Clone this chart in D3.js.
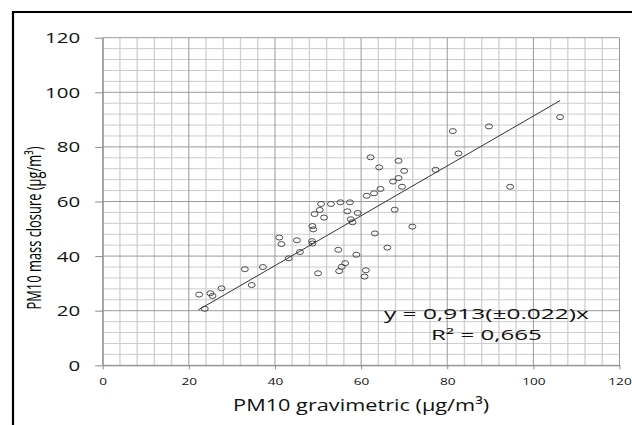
<!DOCTYPE html>
<html>
<head>
<meta charset="utf-8">
<script src="https://cdn.jsdelivr.net/npm/d3@7"></script>
<style>
  body { margin: 0; background: #fff; }
  svg { display: block; font-family: "Open Sans", "DejaVu Sans", sans-serif; }
</style>
</head>
<body>
<svg id="chart" width="632" height="425"></svg>
<script>
// values
const pmGravimetric = [22.4, 23.7, 25.0, 25.5, 27.6, 33.0, 34.6, 37.2, 41.0, 41.5,
    43.2, 45.1, 45.8, 48.6, 48.7, 48.7, 48.9, 49.2, 50.0, 50.4,
    50.7, 51.4, 53.0, 54.7, 54.9, 55.2, 55.5, 56.3, 56.8, 57.4,
    57.6, 58.0, 58.9, 59.2, 60.8, 61.1, 61.3, 62.2, 63.0, 63.2,
    64.2, 64.5, 66.1, 67.4, 67.8, 68.7, 68.7, 69.5, 70.0, 71.9,
    77.3, 81.3, 82.6, 89.7, 94.6, 106.2];
const pmMassClosure = [25.9, 20.7, 26.4, 25.4, 28.2, 35.2, 29.4, 36.0, 46.8, 44.4,
    39.2, 45.8, 41.5, 45.5, 44.6, 51.0, 49.8, 55.4, 33.7, 56.9,
    59.1, 54.1, 59.1, 42.3, 34.5, 59.7, 36.1, 37.4, 56.4, 59.7,
    53.5, 52.4, 40.5, 55.8, 32.5, 34.8, 62.1, 76.2, 63.0, 48.3,
    72.5, 64.6, 43.1, 67.3, 57.0, 74.9, 68.6, 65.4, 71.2, 50.8,
    71.6, 85.8, 77.6, 87.5, 65.4, 90.9];
const xTicks = [0, 20, 40, 60, 80, 100, 120];
const yTicks = [0, 20, 40, 60, 80, 100, 120];
const slope = 0.913;
const equationLines = ["y = 0,913(±0.022)x", "R² = 0,665"];
const xTitle = "PM10 gravimetric (μg/m³)";
const yTitle = "PM10 mass closure (μg/m³)";

const svg = d3.select("#chart");
const x = d3.scaleLinear().domain([0, 120]).range([102.7, 619.5]);
const y = d3.scaleLinear().domain([0, 120]).range([365.3, 37.7]);

// frame (only top and left edges are visible in the picture)
svg.append("path")
    .attr("d", "M13,440 L13,12 L660,12")
    .attr("fill", "none")
    .attr("stroke", "#000")
    .attr("stroke-width", 2.2);

// grid: minor every 4, major every 20
const grid = svg.append("g");
const minor = d3.range(0, 121, 4).filter(v => v % 20 !== 0);
grid.selectAll(".vmin").data(minor).enter().append("line")
    .attr("x1", d => x(d)).attr("x2", d => x(d))
    .attr("y1", y(0)).attr("y2", y(120))
    .attr("stroke", "#d2d2d2").attr("stroke-width", 1.4);
grid.selectAll(".hmin").data(minor).enter().append("line")
    .attr("x1", x(0)).attr("x2", x(120))
    .attr("y1", d => y(d)).attr("y2", d => y(d))
    .attr("stroke", "#cccccc").attr("stroke-width", 1);
grid.selectAll(".vmaj").data(xTicks).enter().append("line")
    .attr("x1", d => x(d)).attr("x2", d => x(d))
    .attr("y1", y(0)).attr("y2", y(120))
    .attr("stroke", "#9a9a9a").attr("stroke-width", 1);
grid.selectAll(".hmaj").data(yTicks).enter().append("line")
    .attr("x1", x(0)).attr("x2", x(120))
    .attr("y1", d => y(d)).attr("y2", d => y(d))
    .attr("stroke", "#9a9a9a").attr("stroke-width", 1);

// axes
const yAxis = svg.append("g")
    .attr("transform", "translate(" + x(0) + ",0)")
    .call(d3.axisLeft(y).tickValues(yTicks).tickSize(7.5).tickSizeOuter(0).tickPadding(15));
const xAxis = svg.append("g")
    .attr("transform", "translate(0," + y(0) + ")")
    .call(d3.axisBottom(x).tickValues(xTicks).tickSize(4).tickSizeOuter(0));

[yAxis, xAxis].forEach(a => {
    a.select(".domain").attr("stroke", "#8c8c8c");
    a.selectAll(".tick line").attr("stroke", "#8c8c8c");
    a.selectAll("text").attr("fill", "#111").attr("font-family", "'Open Sans', sans-serif");
});
yAxis.selectAll("text")
    .attr("font-size", 14)
    .attr("dy", "0.36em")
    .attr("textLength", d => String(d).length * 11.7)
    .attr("lengthAdjust", "spacingAndGlyphs");
xAxis.selectAll("text")
    .attr("font-size", 9)
    .attr("y", 19.7)
    .attr("dy", 0)
    .attr("textLength", d => String(d).length * 7.8)
    .attr("lengthAdjust", "spacingAndGlyphs");

// trend line through the origin
const xExt = d3.extent(pmGravimetric);
svg.append("line")
    .attr("x1", x(xExt[0] - 0.2)).attr("y1", y(slope * (xExt[0] - 0.2)))
    .attr("x2", x(xExt[1])).attr("y2", y(slope * xExt[1]))
    .attr("stroke", "#333").attr("stroke-width", 1);

// points (the picture is stretched sideways, so circles look like ellipses)
svg.append("g").selectAll("ellipse")
    .data(pmGravimetric.map((v, i) => [v, pmMassClosure[i]]))
    .enter().append("ellipse")
    .attr("cx", d => x(d[0]))
    .attr("cy", d => y(d[1]))
    .attr("rx", 3.5).attr("ry", 2.5)
    .attr("fill", "none")
    .attr("stroke", "#3a3a3a").attr("stroke-width", 0.9);

// equation
svg.append("text")
    .attr("x", x(89.1)).attr("y", y(16.8))
    .attr("text-anchor", "middle")
    .attr("font-size", 14).attr("fill", "#111")
    .attr("textLength", 205).attr("lengthAdjust", "spacingAndGlyphs")
    .text(equationLines[0]);
svg.append("text")
    .attr("x", x(89.1)).attr("y", y(16.8) + 20.5)
    .attr("text-anchor", "middle")
    .attr("font-size", 14).attr("fill", "#111")
    .attr("textLength", 111).attr("lengthAdjust", "spacingAndGlyphs")
    .text(equationLines[1]);

// axis titles
svg.append("text")
    .attr("x", (x(0) + x(120)) / 2).attr("y", 411)
    .attr("text-anchor", "middle")
    .attr("font-size", 17).attr("fill", "#111")
    .attr("textLength", 256).attr("lengthAdjust", "spacingAndGlyphs")
    .text(xTitle);
svg.append("text")
    .attr("transform", "translate(40.5,228) rotate(-90)")
    .attr("text-anchor", "middle")
    .attr("font-size", 19.5).attr("fill", "#000")
    .attr("textLength", 163).attr("lengthAdjust", "spacingAndGlyphs")
    .text(yTitle);
</script>
</body>
</html>
